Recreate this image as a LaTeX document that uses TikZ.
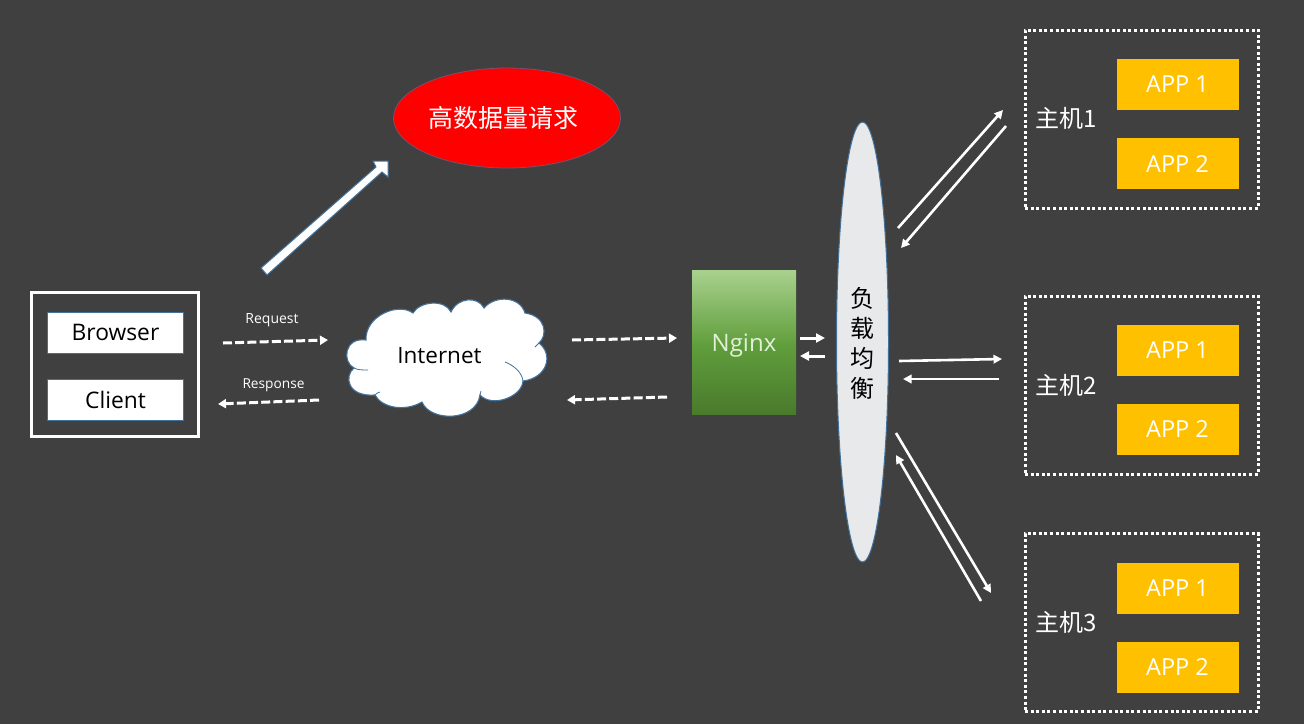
\documentclass[tikz,border=0pt]{standalone}
\usepackage{fontspec}
\setmainfont{Open Sans}
\newfontfamily\cjk{Noto Sans CJK SC}
\usetikzlibrary{arrows.meta,shapes.geometric}
\definecolor{bgc}{HTML}{404040}
\definecolor{edgeblue}{HTML}{41719C}
\definecolor{appc}{HTML}{FFC000}
\definecolor{nginxtop}{HTML}{A9D18E}
\definecolor{nginxmid}{HTML}{609E3C}
\definecolor{nginxbot}{HTML}{4A7A2C}
\definecolor{nginxtext}{HTML}{E2F0D9}
\definecolor{lbfill}{HTML}{E8E9EB}
\tikzset{
  x=1pt,y=-1pt,
  fs/.style={font=\fontsize{#1}{#1}\selectfont},
  whitebox/.style={draw=edgeblue,line width=1pt,fill=white,text=black,minimum width=136pt,minimum height=41pt,inner sep=0pt,fs=22.8},
  appbox/.style={fill=appc,text=white,minimum width=122pt,minimum height=51pt,inner sep=0pt,fs=23.5},
  hostbox/.style={draw=white,line width=3pt,dash pattern=on 3pt off 2.6pt,minimum width=233pt,minimum height=178pt,inner sep=0pt},
  hostlabel/.style={text=white,inner sep=0pt,fs=24},
  dashflow/.style={draw=white,line width=3pt,dash pattern=on 9pt off 3.2pt,-{Triangle[length=8pt,width=9pt]}},
  solidflow/.style={draw=white,line width=2.6pt,-{Triangle[length=8.5pt,width=8.5pt]}},
  shortflow/.style={draw=white,line width=3pt,-{Triangle[length=9pt,width=9pt]}},
  smalllabel/.style={text=white,inner sep=0pt,fs=14},
}
\begin{document}
\begin{tikzpicture}
\useasboundingbox[fill=bgc] (0,0) rectangle (1304,724);

% client group
\node[draw=white,line width=3pt,minimum width=167pt,minimum height=144pt,inner sep=0pt] (clientgroup) at (115,364.5) {};
\node[whitebox] (browser) at (115.5,332.5) {\raisebox{-1.5pt}{Browser}};
\node[whitebox] (client) at (115.5,400) {Client};

% request labels
\node[smalllabel] (reqlabel) at (272,320) {Request};
\node[smalllabel,fs=13.7] (resplabel) at (273.5,385) {Response};

% cloud
\draw[draw=edgeblue,line width=1.1pt,fill=white]
  (366,340) .. controls (365,316) and (398,302) .. (413,313)
  .. controls (420,301) and (445,299) .. (451,312)
  .. controls (458,297) and (478,296) .. (484,308)
  .. controls (495,295) and (520,296) .. (525,313)
  .. controls (546,316) and (548,335) .. (539,343)
  .. controls (554,355) and (547,378) .. (523,381)
  .. controls (522,397) and (492,408) .. (480,395)
  .. controls (476,422) and (430,422) .. (422,402)
  .. controls (405,412) and (382,408) .. (375,395)
  .. controls (347,397) and (344,376) .. (354,368)
  .. controls (342,362) and (344,337) .. (366,340) -- cycle;
\draw[edgeblue,line width=.8pt] (354,368) .. controls (358,370) and (362,370) .. (368,370);
\draw[edgeblue,line width=.8pt] (375,395) .. controls (376,393) and (378,393) .. (380,392);
\draw[edgeblue,line width=.8pt] (505,362) .. controls (513,365) and (522,372) .. (523,381);
\draw[edgeblue,line width=.8pt] (480,395) -- (481,391);
\draw[edgeblue,line width=.8pt] (539,343) -- (535,347);
\node[text=black,inner sep=0pt,fs=22.5] (internet) at (439.5,356) {Internet};

% red ellipse
\node[ellipse,draw=edgeblue!70!red,line width=.8pt,fill=red,minimum width=227pt,minimum height=100pt,inner sep=0pt] (bigreq) at (507,118) {};
\node[text=white,inner sep=0pt,fs=25] (bigreqtext) at (503,118) {\cjk 高数据量请求};

% thick arrow
\draw[edgeblue,line width=1pt,fill=white,line join=miter]
  (261,268) -- (376,167) -- (373,161) -- (388,161) -- (388,177) -- (382,172) -- (267,275) -- cycle;

% nginx: three-stop vertical gradient
\shade[top color=nginxtop,bottom color=nginxmid] (692,270) rectangle (796,345);
\shade[top color=nginxmid,bottom color=nginxbot] (692,345) rectangle (796,414);
\node[text=nginxtext,inner sep=0pt,fs=24] (nginx) at (744,346) {Nginx};

% load balancer
\node[ellipse,draw=edgeblue,line width=1pt,fill=lbfill,minimum width=52pt,minimum height=440pt,inner sep=0pt] (lb) at (862.5,342) {};
\node[text=black,inner sep=0pt,fs=24,align=center] (lbt1) at (862,298) {\cjk 负};
\node[text=black,inner sep=0pt,fs=24,align=center] (lbt2) at (862,328) {\cjk 载};
\node[text=black,inner sep=0pt,fs=24,align=center] (lbt3) at (862,358) {\cjk 均};
\node[text=black,inner sep=0pt,fs=24,align=center] (lbt4) at (862,388) {\cjk 衡};

% hosts
\node[hostbox] (host1) at (1141.5,119) {};
\node[hostbox] (host2) at (1141.5,385) {};
\node[hostbox] (host3) at (1141.5,622.5) {};
\node[appbox] (h1a1) at (1177.5,84) {APP 1};
\node[appbox] (h1a2) at (1177.5,163.5) {APP 2};
\node[appbox] (h2a1) at (1177.5,350) {APP 1};
\node[appbox] (h2a2) at (1177.5,429) {APP 2};
\node[appbox] (h3a1) at (1177.5,588) {APP 1};
\node[appbox] (h3a2) at (1177.5,667) {APP 2};
\node[hostlabel] (h1l) at (1066.5,118) {\cjk 主机1};
\node[hostlabel] (h2l) at (1066.5,385) {\cjk 主机2};
\node[hostlabel] (h3l) at (1066.5,622) {\cjk 主机3};

% connector ends
\coordinate (c1) at (223,343); \coordinate (c2) at (328,340);
\coordinate (c3) at (319,400); \coordinate (c4) at (218,404);
\coordinate (c5) at (572,340); \coordinate (c6) at (677,338);
\coordinate (c7) at (667,397); \coordinate (c8) at (567,400);
\coordinate (n1) at (800,338); \coordinate (n2) at (825,338);
\coordinate (n3) at (825,356); \coordinate (n4) at (800,356);
\coordinate (a1) at (898,228); \coordinate (a2) at (1003,110);
\coordinate (a3) at (1006,126); \coordinate (a4) at (901,248);
\coordinate (b1) at (899,361); \coordinate (b2) at (1002,359);
\coordinate (b3) at (999,379); \coordinate (b4) at (903,379);
\coordinate (d1) at (896,433); \coordinate (d2) at (991,593);
\coordinate (d3) at (981,601); \coordinate (d4) at (896,455);

\draw[dashflow] (c1) -- (c2);
\draw[dashflow] (c3) -- (c4);
\draw[dashflow] (c5) -- (c6);
\draw[dashflow] (c7) -- (c8);
\draw[shortflow] (n1) -- (n2);
\draw[shortflow] (n3) -- (n4);
\draw[solidflow] (a1) -- (a2);
\draw[solidflow] (a3) -- (a4);
\draw[solidflow] (b1) -- (b2);
\draw[solidflow] (b3) -- (b4);
\draw[solidflow] (d1) -- (d2);
\draw[solidflow] (d3) -- (d4);
\end{tikzpicture}
\end{document}
